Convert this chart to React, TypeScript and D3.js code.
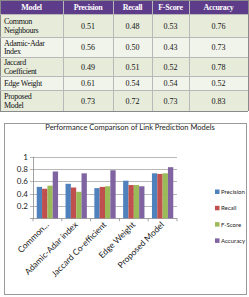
import React from "react";
import * as d3 from "d3";

const models = ["Common Neighbours", "Adamic-Adar index", "Jaccard Co-efficient", "Edge Weight", "Proposed Model"];
const axisLabels = ["Common...", "Adamic-Adar index", "Jaccard Co-efficient", "Edge Weight", "Proposed Model"];
const rowLabelLines = [["Common", "Neighbours"], ["Adamic-Adar", "Index"], ["Jaccard", "Coefficient"], ["Edge Weight"], ["Proposed", "Model"]];
const metrics = ["Precision", "Recall", "F-Score", "Accuracy"];
const precision = [0.51, 0.56, 0.49, 0.61, 0.73];
const recall = [0.48, 0.5, 0.51, 0.54, 0.72];
const fscore = [0.53, 0.43, 0.52, 0.54, 0.73];
const accuracy = [0.76, 0.73, 0.78, 0.52, 0.83];
const yTicks = [0, 0.2, 0.4, 0.6, 0.8, 1];
const colors = ["#4F81BD", "#C0504D", "#9BBB59", "#8064A2"];
const title = "Performance Comparison of Link Prediction Models";

const series = [precision, recall, fscore, accuracy];

export default function App() {
  const W = 249, H = 297;
  // table geometry
  const colX = [0, 63, 113, 152, 189, 248];
  const rowY = [0, 14, 37, 57, 76, 90, 111];

  // chart geometry
  const plotL = 33, plotR = 177, plotT = 156.7, plotB = 218.3;
  const x0 = d3.scaleBand<string>().domain(models).range([plotL, plotR]).paddingInner(0.26).paddingOuter(0.13);
  const x1 = d3.scaleBand<string>().domain(metrics).range([0, x0.bandwidth()]);
  const y = d3.scaleLinear().domain([0, 1]).range([plotB, plotT]);
  const step = x0.step();

  return (
    <svg width={W} height={H} style={{ position: "absolute", left: 0, top: 0, background: "#fff" }}>
      {/* Table */}
      <g>
        <rect x={colX[0]} y={rowY[0]} width={colX[5] - colX[0]} height={rowY[1] - rowY[0]} fill="#5D3D8A" />
        {["Model", ...metrics].map((h, i) => (
          <text key={h} x={(colX[i] + colX[i + 1]) / 2} y={rowY[1] - 4} textAnchor="middle" fill="#fff"
            fontFamily="Liberation Serif" fontWeight="bold" fontSize={8} letterSpacing={-0.3}>{h}</text>
        ))}
        {models.map((m, r) => (
          <g key={m}>
            <rect x={colX[0]} y={rowY[r + 1]} width={colX[5] - colX[0]} height={rowY[r + 2] - rowY[r + 1]}
              fill={r % 2 === 0 ? "#E6EBDA" : "#F1F4EA"} />
            {rowLabelLines[r].map((ln, k) => {
              const n = rowLabelLines[r].length;
              const cy = (rowY[r + 1] + rowY[r + 2]) / 2;
              return (
                <text key={k} x={colX[0] + 4} y={cy + 3 + (k - (n - 1) / 2) * 8.5} fontFamily="Liberation Serif"
                  fontSize={8} fill="#111" letterSpacing={-0.3}>{ln}</text>
              );
            })}
            {series.map((s, c) => (
              <text key={c} x={(colX[c + 1] + colX[c + 2]) / 2} y={(rowY[r + 1] + rowY[r + 2]) / 2 + 3}
                textAnchor="middle" fontFamily="Liberation Serif" fontSize={8} fill="#111">{s[r].toFixed(2)}</text>
            ))}
          </g>
        ))}
        {colX.map((cx, i) => (
          <line key={"c" + i} x1={cx + 0.5} x2={cx + 0.5} y1={0} y2={rowY[6]} stroke={i === 0 || i === 5 ? "#8a8a8a" : "#b8b8b8"} strokeWidth={1} />
        ))}
        {rowY.map((ry, i) => (
          <line key={"r" + i} x1={0} x2={colX[5]} y1={ry + 0.5} y2={ry + 0.5} stroke={i === 0 || i === 6 ? "#8a8a8a" : "#b8b8b8"} strokeWidth={1} />
        ))}
      </g>

      {/* Chart box */}
      <rect x={4.5} y={123.5} width={242} height={171} fill="#fff" stroke="#9a9a9a" />
      <text x={130} y={130} textAnchor="middle" fontFamily="Lato" fontSize={7.5} fill="#222">{title}</text>

      {/* Gridlines & y axis */}
      {yTicks.map((t) => (
        <g key={t}>
          <line x1={plotL - 3} x2={plotR} y1={Math.round(y(t)) + 0.5} y2={Math.round(y(t)) + 0.5} stroke={t === 0 ? "#8a8a8a" : "#a6a6a6"} strokeWidth={0.8} />
          {t > 0 && (
            <text x={plotL - 5} y={y(t) + 3} textAnchor="end" fontFamily="Lato" fontSize={8} fill="#222">{d3.format("~g")(t)}</text>
          )}
        </g>
      ))}
      <line x1={plotL + 0.5} x2={plotL + 0.5} y1={plotT} y2={plotB} stroke="#8a8a8a" strokeWidth={0.8} />
      {d3.range(models.length + 1).map((i) => (
        <line key={i} x1={plotL + i * step} x2={plotL + i * step} y1={plotB} y2={plotB + 3} stroke="#8a8a8a" strokeWidth={0.8} />
      ))}

      {/* Bars */}
      {models.map((m, r) => (
        <g key={m} transform={`translate(${x0(m)},0)`}>
          {series.map((s, c) => (
            <rect key={c} x={x1(metrics[c])} y={y(s[r])} width={x1.bandwidth()} height={plotB - y(s[r])} fill={colors[c]} />
          ))}
        </g>
      ))}

      {/* X labels */}
      {models.map((m, r) => {
        const cx = (x0(m) as number) + x0.bandwidth() / 2 + 2;
        const cy = plotB + 7;
        return (
          <text key={m} transform={`translate(${cx},${cy}) rotate(-45)`} textAnchor="end" fontFamily="Lato" fontSize={8.5} fill="#222">{axisLabels[r]}</text>
        );
      })}

      {/* Legend */}
      {metrics.map((mt, i) => (
        <g key={mt} transform={`translate(215,${192 + i * 16.3})`}>
          <rect x={0} y={-2.5} width={4.5} height={4.5} fill={colors[i]} />
          <text x={6} y={2} fontFamily="Lato" fontSize={6} fill="#222">{mt}</text>
        </g>
      ))}
    </svg>
  );
}
